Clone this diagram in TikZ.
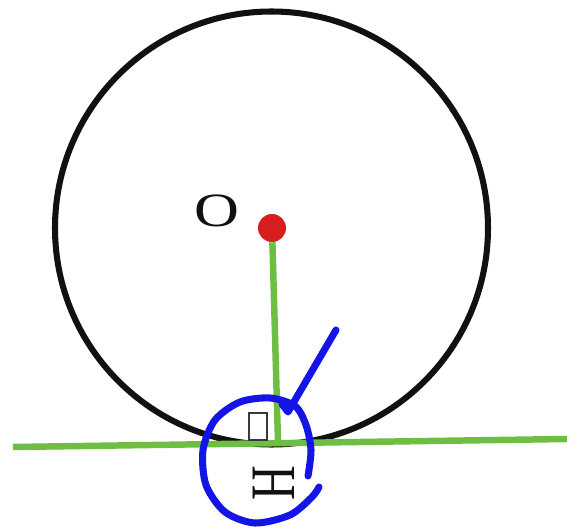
\documentclass[tikz,border=0pt]{standalone}
\usepackage{fontspec}
\setmainfont{Liberation Serif}
\usepackage{tikz}
\usetikzlibrary{positioning,calc}
\definecolor{GeoInk}{HTML}{111111}
\definecolor{GeoGreen}{HTML}{6EBE44}
\definecolor{GeoRed}{HTML}{D81F1F}
\definecolor{GeoBlue}{HTML}{1414E6}
\definecolor{GeoGray}{HTML}{3A3A3A}
\tikzset{
  ringline/.style={draw=GeoInk, line width=4.3pt},
  greenline/.style={draw=GeoGreen, line width=4.6pt},
  centredot/.style={circle, fill=GeoRed, inner sep=0pt, minimum size=0.7cm},
  rightmark/.style={draw=GeoGray, line width=2pt},
  penstroke/.style={draw=GeoBlue, line width=5pt, line cap=round, line join=round},
  ptlabel/.style={text=GeoInk, inner sep=0pt}
}

\begin{document}
\begin{tikzpicture}[x=0.025cm, y=-0.025cm]
\useasboundingbox (0,0) rectangle (567,531);
% circle and centre
\coordinate (ctrpt) at (271.5,228);
\draw[ringline] (ctrpt) circle[radius=216.5];
\node[centredot] (ctr) at (272,228) {};
\node[ptlabel, font=\fontsize{34}{36}\selectfont] (lblO) at (217,211) {\scalebox{1.3}[1]{O}};
% tangent and radius
\coordinate (tanL) at (13,447);
\coordinate (tanR) at (567,439);
\coordinate (foot) at (278,442);
\draw[greenline] (tanL) -- (tanR);
\draw[greenline] (ctr) -- (foot);
% right angle mark and foot label
\draw[rightmark] (249,413) rectangle (267,440);
\node[ptlabel, font=\fontsize{45}{48}\selectfont] (lblH) at (274,483) {\rotatebox{90}{\scalebox{0.76}[1]{H}}};
% pen annotation
\draw[penstroke] (336,330) -- (288,412) -- (282,404);
\draw[penstroke] plot[smooth] coordinates {(308,476) (311,450) (306,425) (295,406) (270,398) (240,402) (215,420) (203,450) (206,485) (225,512) (255,523) (290,515) (312,497) (319,487)};
\end{tikzpicture}
\end{document}
